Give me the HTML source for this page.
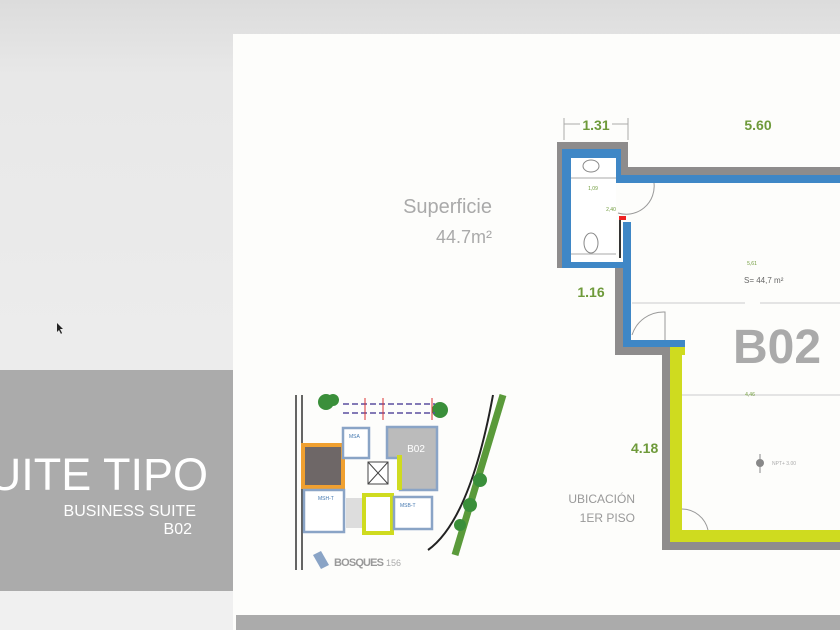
<!DOCTYPE html>
<html><head><meta charset="utf-8"><style>
html,body{margin:0;padding:0;width:840px;height:630px;overflow:hidden;background:#ececec}
svg{display:block}
text{font-family:"Liberation Sans",sans-serif}
</style></head><body>
<svg width="840" height="630" viewBox="0 0 840 630" xmlns="http://www.w3.org/2000/svg">
<defs>
<linearGradient id="bg" x1="0" y1="0" x2="0" y2="1">
<stop offset="0" stop-color="#dcdcdc"/><stop offset="0.12" stop-color="#e8e8e8"/><stop offset="1" stop-color="#f0f0f0"/>
</linearGradient>
</defs>
<rect width="840" height="630" fill="url(#bg)"/>
<rect x="233" y="34" width="607" height="596" fill="#fdfdfb"/>
<rect x="0" y="370" width="233" height="221" fill="#ababab"/>
<rect x="236" y="615" width="604" height="15" fill="#ababab"/>
<path d="M57 323 l0 9 l2 -2 l2 4 l1 -1 l-2 -4 l3 0 z" fill="#222"/>
<text x="208" y="490" font-size="45" fill="#fff" text-anchor="end">UITE TIPO</text>
<text x="196" y="516" font-size="16" fill="#fff" text-anchor="end">BUSINESS SUITE</text>
<text x="192" y="534" font-size="16" fill="#fff" text-anchor="end">B02</text>

<text x="492" y="213" font-size="20" fill="#aaa" text-anchor="end">Superficie</text>
<text x="492" y="243" font-size="18" fill="#aaa" text-anchor="end">44.7m²</text>
<text x="635" y="503" font-size="12" fill="#999" text-anchor="end">UBICACIÓN</text>
<text x="635" y="522" font-size="12" fill="#999" text-anchor="end">1ER PISO</text>

<line x1="564" y1="124" x2="628" y2="124" stroke="#aaa" stroke-width="1"/>
<line x1="564" y1="118" x2="564" y2="140" stroke="#aaa"/><line x1="628" y1="118" x2="628" y2="140" stroke="#aaa"/>
<rect x="580" y="115" width="32" height="18" fill="#fdfdfb"/>
<text x="596" y="130" font-size="14" font-weight="bold" fill="#6e9a3a" text-anchor="middle">1.31</text>
<text x="758" y="130" font-size="14" font-weight="bold" fill="#6e9a3a" text-anchor="middle">5.60</text>
<text x="591" y="297" font-size="14" font-weight="bold" fill="#6e9a3a" text-anchor="middle">1.16</text>
<text x="631" y="453" font-size="14" font-weight="bold" fill="#6e9a3a">4.18</text>

<path d="M557 142 H628 V167 H840 V183 H616 V268 H557 Z" fill="#8e8c8c"/>
<rect x="615" y="262" width="15" height="93" fill="#8e8c8c"/>
<rect x="615" y="340" width="55" height="15" fill="#8e8c8c"/>
<rect x="662" y="347" width="10" height="203" fill="#8e8c8c"/>
<rect x="662" y="536" width="178" height="14" fill="#8e8c8c"/>
<path d="M562 149 H621 V175 H840 V183 H616 V158 H571 V262 H630 V340 H685 V347 H623 V268 H562 Z" fill="#3f87c6"/>
<rect x="623" y="222" width="8" height="120" fill="#3f87c6"/>
<rect x="571" y="158" width="45" height="104" fill="#fff"/>
<ellipse cx="591" cy="166" rx="8" ry="6" fill="none" stroke="#888"/>
<ellipse cx="591" cy="243" rx="7" ry="10" fill="none" stroke="#888"/>
<line x1="571" y1="254" x2="616" y2="254" stroke="#aaa"/>
<line x1="571" y1="178" x2="616" y2="178" stroke="#aaa"/>
<rect x="619" y="216" width="7" height="4" fill="#e22"/>
<line x1="620" y1="220" x2="620" y2="258" stroke="#333" stroke-width="2"/>
<path d="M618 213 A 28 28 0 0 0 654 183" fill="none" stroke="#999"/>
<text x="593" y="190" font-size="5" fill="#6e9a3a" text-anchor="middle">1,09</text>
<text x="611" y="211" font-size="5" fill="#6e9a3a" text-anchor="middle">2,40</text>
<rect x="670" y="347" width="15" height="8" fill="#cfdb1f"/>
<rect x="670" y="347" width="12" height="195" fill="#cfdb1f"/>
<rect x="670" y="530" width="170" height="12" fill="#cfdb1f"/>
<path d="M632 335 A 33 33 0 0 1 665 312 V340" fill="none" stroke="#999"/>
<path d="M682 509 A 27 27 0 0 1 708 530" fill="none" stroke="#999"/>
<line x1="632" y1="303" x2="745" y2="303" stroke="#ccc"/>
<line x1="760" y1="303" x2="840" y2="303" stroke="#ccc"/>
<line x1="682" y1="395" x2="840" y2="395" stroke="#ccc"/>
<text x="750" y="396" font-size="5" fill="#6e9a3a" text-anchor="middle">4,46</text>
<text x="752" y="265" font-size="5" fill="#6e9a3a" text-anchor="middle">5,61</text>
<text x="744" y="283" font-size="8" fill="#666">S= 44,7 m²</text>
<text x="777" y="363" font-size="48" font-weight="bold" fill="#aaa" text-anchor="middle">B02</text>
<circle cx="760" cy="463" r="4" fill="#888"/><line x1="760" y1="454" x2="760" y2="473" stroke="#888"/>
<text x="772" y="465" font-size="5" fill="#aaa">NPT+ 3.00</text>

<g>
<line x1="296" y1="395" x2="296" y2="570" stroke="#333" stroke-width="1.5"/>
<line x1="302" y1="395" x2="302" y2="570" stroke="#333" stroke-width="1.5"/>
<circle cx="326" cy="402" r="8" fill="#3a8f3a"/><circle cx="333" cy="400" r="6" fill="#3a8f3a"/>
<circle cx="440" cy="410" r="8" fill="#3a8f3a"/>
<line x1="343" y1="404" x2="435" y2="404" stroke="#5b4fa0" stroke-width="1.5" stroke-dasharray="6 3"/>
<line x1="343" y1="413" x2="435" y2="413" stroke="#5b4fa0" stroke-width="1.5" stroke-dasharray="6 3"/>
<line x1="365" y1="398" x2="365" y2="420" stroke="#d33"/><line x1="383" y1="398" x2="383" y2="420" stroke="#d33"/><line x1="432" y1="398" x2="432" y2="420" stroke="#d33"/>
<rect x="303" y="445" width="40" height="42" fill="#6e6767" stroke="#f0a030" stroke-width="4"/>
<rect x="343" y="428" width="26" height="30" fill="#fff" stroke="#8aa4c6" stroke-width="2.5"/>
<text x="349" y="438" font-size="5" fill="#4478b0">MSA</text>
<path d="M387 427 H437 V490 H400 V458 H387 Z" fill="#bbb" stroke="#8aa4c6" stroke-width="2.5"/>
<rect x="397" y="455" width="5" height="35" fill="#cfdb1f"/>
<text x="416" y="452" font-size="10" fill="#fff" text-anchor="middle">B02</text>
<rect x="368" y="462" width="20" height="22" fill="#fff" stroke="#444"/>
<line x1="368" y1="462" x2="388" y2="484" stroke="#444"/><line x1="388" y1="462" x2="368" y2="484" stroke="#444"/>
<rect x="304" y="490" width="40" height="42" fill="#fff" stroke="#8aa4c6" stroke-width="2.5"/>
<text x="318" y="500" font-size="5" fill="#4478b0">MSH-T</text>
<rect x="346" y="498" width="20" height="30" fill="#ddd"/>
<rect x="364" y="495" width="28" height="38" fill="#fff" stroke="#cfdb1f" stroke-width="4"/>
<rect x="394" y="497" width="38" height="32" fill="#fff" stroke="#8aa4c6" stroke-width="2.5"/>
<text x="400" y="507" font-size="5" fill="#4478b0">MSB-T</text>
<path d="M428 550 Q470 520 493 395" fill="none" stroke="#222" stroke-width="2"/>
<path d="M455 555 L503 395" stroke="#5a9a3a" stroke-width="7"/>
<circle cx="480" cy="480" r="7" fill="#3a8f3a"/><circle cx="470" cy="505" r="7" fill="#3a8f3a"/><circle cx="460" cy="525" r="6" fill="#3a8f3a"/>
<path d="M313 555 l8 -4 l8 14 l-8 4 z" fill="#8aa4c6"/>
<text x="334" y="566" font-size="11" font-weight="bold" fill="#999" textLength="50">BOSQUES</text>
<text x="386" y="566" font-size="9" fill="#aaa">156</text>
</g>
</svg>
</body></html>
